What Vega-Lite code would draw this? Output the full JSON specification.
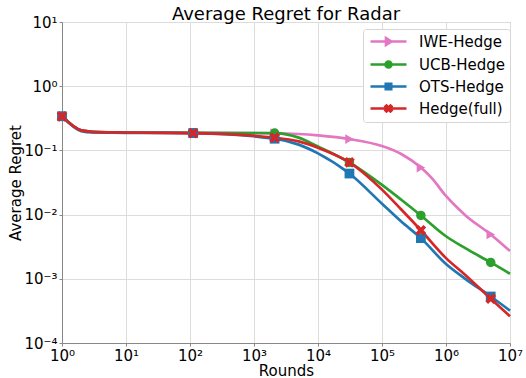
{
  "$schema": "https://vega.github.io/schema/vega-lite/v6.json",
  "autosize": {"type": "none"},
  "width": 448,
  "height": 321,
  "padding": {"left": 62, "top": 22, "right": 16, "bottom": 35},
  "background": "white",
  "title": {"text": "Average Regret for Radar", "font": "DejaVu Sans", "fontSize": 18, "fontWeight": "normal", "color": "black", "offset": -9, "anchor": "middle", "frame": "group"},
  "config": {
    "view": {"stroke": "#b0b0b0", "strokeWidth": 1},
    "axis": {
      "labelFont": "DejaVu Sans", "labelFontSize": 15, "labelColor": "black", "labelFlush": false, "labelOverlap": false,
      "titleFont": "DejaVu Sans", "titleFontSize": 15, "titleFontWeight": "normal", "titleColor": "black",
      "gridColor": "#dcdcdc", "gridWidth": 1, "domainColor": "#888888", "tickColor": "#888888", "tickSize": 3
    },
    "legend": {"title": null, "orient": "none", "legendX": 301, "legendY": 7, "padding": 5,
      "strokeColor": "#d5d5d5", "fillColor": "white", "cornerRadius": 3,
      "labelFont": "DejaVu Sans", "labelFontSize": 15, "labelColor": "black", "labelOffset": 36,
      "symbolSize": 100, "symbolStrokeWidth": 2.6, "symbolOpacity": 1, "rowPadding": 5}
  },
  "datasets": {
    "curves": [
      {"series": "IWE-Hedge", "rounds": 1, "regret": 0.34},
      {"series": "IWE-Hedge", "rounds": 2, "regret": 0.205},
      {"series": "IWE-Hedge", "rounds": 3, "regret": 0.195},
      {"series": "IWE-Hedge", "rounds": 10, "regret": 0.19},
      {"series": "IWE-Hedge", "rounds": 112, "regret": 0.187},
      {"series": "IWE-Hedge", "rounds": 2100, "regret": 0.185},
      {"series": "IWE-Hedge", "rounds": 5000, "regret": 0.18},
      {"series": "IWE-Hedge", "rounds": 10000, "regret": 0.171},
      {"series": "IWE-Hedge", "rounds": 31000, "regret": 0.15},
      {"series": "IWE-Hedge", "rounds": 100000, "regret": 0.117},
      {"series": "IWE-Hedge", "rounds": 200000, "regret": 0.088},
      {"series": "IWE-Hedge", "rounds": 405000, "regret": 0.054},
      {"series": "IWE-Hedge", "rounds": 600000, "regret": 0.037},
      {"series": "IWE-Hedge", "rounds": 1000000, "regret": 0.0195},
      {"series": "IWE-Hedge", "rounds": 2000000, "regret": 0.0098},
      {"series": "IWE-Hedge", "rounds": 5000000, "regret": 0.0049},
      {"series": "IWE-Hedge", "rounds": 10000000, "regret": 0.0027},
      {"series": "UCB-Hedge", "rounds": 1, "regret": 0.34},
      {"series": "UCB-Hedge", "rounds": 2, "regret": 0.205},
      {"series": "UCB-Hedge", "rounds": 3, "regret": 0.195},
      {"series": "UCB-Hedge", "rounds": 10, "regret": 0.19},
      {"series": "UCB-Hedge", "rounds": 112, "regret": 0.188},
      {"series": "UCB-Hedge", "rounds": 2100, "regret": 0.186},
      {"series": "UCB-Hedge", "rounds": 5000, "regret": 0.158},
      {"series": "UCB-Hedge", "rounds": 10000, "regret": 0.115},
      {"series": "UCB-Hedge", "rounds": 31000, "regret": 0.065},
      {"series": "UCB-Hedge", "rounds": 100000, "regret": 0.029},
      {"series": "UCB-Hedge", "rounds": 200000, "regret": 0.017},
      {"series": "UCB-Hedge", "rounds": 405000, "regret": 0.0097},
      {"series": "UCB-Hedge", "rounds": 1000000, "regret": 0.0046},
      {"series": "UCB-Hedge", "rounds": 2000000, "regret": 0.003},
      {"series": "UCB-Hedge", "rounds": 5000000, "regret": 0.0018},
      {"series": "UCB-Hedge", "rounds": 10000000, "regret": 0.0012},
      {"series": "OTS-Hedge", "rounds": 1, "regret": 0.34},
      {"series": "OTS-Hedge", "rounds": 2, "regret": 0.2},
      {"series": "OTS-Hedge", "rounds": 3, "regret": 0.19},
      {"series": "OTS-Hedge", "rounds": 10, "regret": 0.188},
      {"series": "OTS-Hedge", "rounds": 112, "regret": 0.186},
      {"series": "OTS-Hedge", "rounds": 2100, "regret": 0.152},
      {"series": "OTS-Hedge", "rounds": 5000, "regret": 0.123},
      {"series": "OTS-Hedge", "rounds": 10000, "regret": 0.09},
      {"series": "OTS-Hedge", "rounds": 31000, "regret": 0.0436},
      {"series": "OTS-Hedge", "rounds": 100000, "regret": 0.0148},
      {"series": "OTS-Hedge", "rounds": 200000, "regret": 0.0078},
      {"series": "OTS-Hedge", "rounds": 405000, "regret": 0.0043},
      {"series": "OTS-Hedge", "rounds": 1000000, "regret": 0.0017},
      {"series": "OTS-Hedge", "rounds": 2000000, "regret": 0.001},
      {"series": "OTS-Hedge", "rounds": 5000000, "regret": 0.00053},
      {"series": "OTS-Hedge", "rounds": 10000000, "regret": 0.00032},
      {"series": "Hedge(full)", "rounds": 1, "regret": 0.34},
      {"series": "Hedge(full)", "rounds": 2, "regret": 0.205},
      {"series": "Hedge(full)", "rounds": 3, "regret": 0.195},
      {"series": "Hedge(full)", "rounds": 10, "regret": 0.19},
      {"series": "Hedge(full)", "rounds": 112, "regret": 0.186},
      {"series": "Hedge(full)", "rounds": 2100, "regret": 0.158},
      {"series": "Hedge(full)", "rounds": 5000, "regret": 0.138},
      {"series": "Hedge(full)", "rounds": 10000, "regret": 0.11},
      {"series": "Hedge(full)", "rounds": 31000, "regret": 0.065},
      {"series": "Hedge(full)", "rounds": 100000, "regret": 0.0245},
      {"series": "Hedge(full)", "rounds": 200000, "regret": 0.012},
      {"series": "Hedge(full)", "rounds": 405000, "regret": 0.0057},
      {"series": "Hedge(full)", "rounds": 1000000, "regret": 0.0021},
      {"series": "Hedge(full)", "rounds": 2000000, "regret": 0.00115},
      {"series": "Hedge(full)", "rounds": 5000000, "regret": 0.00049},
      {"series": "Hedge(full)", "rounds": 10000000, "regret": 0.00026}
    ]
  },
  "data": {"name": "curves"},
  "encoding": {
    "x": {"field": "rounds", "type": "quantitative", "title": "Rounds",
      "scale": {"type": "log", "domain": [1, 10000000], "nice": false},
      "axis": {"values": [1, 10, 100, 1000, 10000, 100000, 1000000, 10000000], "grid": true, "labelPadding": 2, "titlePadding": 0,
        "labelExpr": "'10' + (datum.value < 1 ? '⁻' : '') + ['⁰','¹','²','³','⁴','⁵','⁶','⁷','⁸','⁹'][abs(round(log(datum.value)/LN10))]"}},
    "y": {"field": "regret", "type": "quantitative", "title": "Average Regret",
      "scale": {"type": "log", "domain": [0.0001, 10], "nice": false},
      "axis": {"values": [0.0001, 0.001, 0.01, 0.1, 1, 10], "grid": true, "labelPadding": 2, "titlePadding": 0,
        "labelExpr": "'10' + (datum.value < 1 ? '⁻' : '') + ['⁰','¹','²','³','⁴','⁵','⁶','⁷','⁸','⁹'][abs(round(log(datum.value)/LN10))]"}}
  },
  "layer": [
    {"transform": [{"filter": {"field": "rounds", "equal": 1}}],
     "mark": {"type": "point", "filled": true, "opacity": 0, "size": 100},
     "encoding": {
       "fill": {"field": "series", "type": "nominal", "legend": {},
         "scale": {"domain": ["IWE-Hedge", "UCB-Hedge", "OTS-Hedge", "Hedge(full)"], "range": ["#e377c2", "#2ca02c", "#1f77b4", "#d62728"]}},
       "stroke": {"field": "series", "type": "nominal", "legend": {},
         "scale": {"domain": ["IWE-Hedge", "UCB-Hedge", "OTS-Hedge", "Hedge(full)"], "range": ["#e377c2", "#2ca02c", "#1f77b4", "#d62728"]}},
       "shape": {"field": "series", "type": "nominal", "legend": {},
         "scale": {"domain": ["IWE-Hedge", "UCB-Hedge", "OTS-Hedge", "Hedge(full)"],
           "range": ["M-1,0H6.2M2.1,-0.7L3.2,0L2.1,0.7Z", "M-1,0H6.2M2,0A0.6,0.6 0 1,0 3.2,0A0.6,0.6 0 1,0 2,0Z", "M-1,0H6.2M2.05,-0.55H3.15V0.55H2.05Z", "M-1,0H6.2M2.0,-0.4L2.2,-0.6L2.6,-0.2L3.0,-0.6L3.2,-0.4L2.8,0L3.2,0.4L3.0,0.6L2.6,0.2L2.2,0.6L2.0,0.4L2.4,0Z"]}}
     }},
    {"mark": {"type": "line", "interpolate": "monotone", "strokeWidth": 2.7},
     "encoding": {"color": {"field": "series", "type": "nominal", "legend": null,
       "scale": {"domain": ["IWE-Hedge", "UCB-Hedge", "OTS-Hedge", "Hedge(full)"], "range": ["#e377c2", "#2ca02c", "#1f77b4", "#d62728"]}}}},
    {"transform": [{"filter": {"field": "series", "equal": "IWE-Hedge"}}, {"filter": {"field": "rounds", "oneOf": [1, 112, 2100, 31000, 405000, 5000000]}}],
     "mark": {"type": "point", "shape": "triangle-right", "filled": true, "opacity": 1, "size": 95},
     "encoding": {"color": {"field": "series", "type": "nominal", "legend": null}}},
    {"transform": [{"filter": {"field": "series", "equal": "UCB-Hedge"}}, {"filter": {"field": "rounds", "oneOf": [1, 112, 2100, 31000, 405000, 5000000]}}],
     "mark": {"type": "point", "shape": "circle", "filled": true, "opacity": 1, "size": 90},
     "encoding": {"color": {"field": "series", "type": "nominal", "legend": null}}},
    {"transform": [{"filter": {"field": "series", "equal": "OTS-Hedge"}}, {"filter": {"field": "rounds", "oneOf": [1, 112, 2100, 31000, 405000, 5000000]}}],
     "mark": {"type": "point", "shape": "square", "filled": true, "opacity": 1, "size": 95},
     "encoding": {"color": {"field": "series", "type": "nominal", "legend": null}}},
    {"transform": [{"filter": {"field": "series", "equal": "Hedge(full)"}}, {"filter": {"field": "rounds", "oneOf": [1, 112, 2100, 31000, 405000, 5000000]}}],
     "mark": {"type": "point", "shape": "M-1.1,-0.55L-0.55,-1.1L0,-0.55L0.55,-1.1L1.1,-0.55L0.55,0L1.1,0.55L0.55,1.1L0,0.55L-0.55,1.1L-1.1,0.55L-0.55,0Z", "filled": true, "opacity": 1, "size": 95},
     "encoding": {"color": {"field": "series", "type": "nominal", "legend": null}}}
  ]
}
